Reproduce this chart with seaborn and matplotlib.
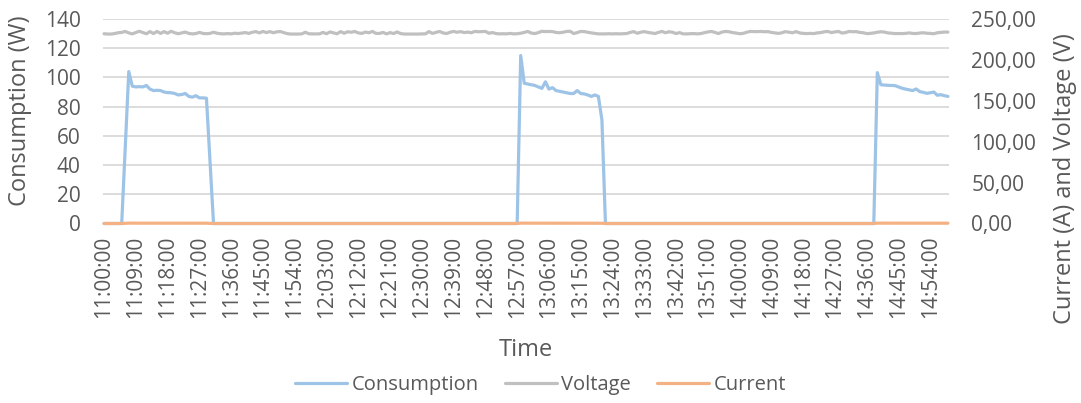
import numpy as np
import pandas as pd
import matplotlib
matplotlib.use("Agg")
import matplotlib.pyplot as plt
import seaborn as sns
from matplotlib.ticker import FuncFormatter, MultipleLocator
from matplotlib.lines import Line2D

# one reading per minute, 11:00 to 14:59
times = pd.date_range("2020-01-01 11:00", periods=240, freq="min")

# consumption (W) while the device is on, start minute index of each run
cons_run1_start = 5
cons_run1 = [0, 52, 104, 94, 93.5, 93.7, 93.5, 94.5, 92, 91, 91.2, 91, 90, 89.6,
             89.5, 89, 88, 88.3, 89, 87, 86.5, 87.5, 86, 86, 85.8, 43, 0]
cons_run2_start = 117
cons_run2 = [0, 115, 96, 95.5, 95, 94.5, 93.5, 92.5, 97, 92, 93, 91, 90.5, 90,
             89.5, 89, 89, 91, 89, 88.7, 88, 87, 88, 87, 71, 0]
cons_run3_start = 218
cons_run3 = [0, 103.3, 95, 94.8, 94.6, 94.5, 94.4, 93.5, 92.6, 92, 91.5, 91,
             92.1, 90.3, 89.8, 89.1, 89.5, 90, 87.8, 88.2, 87.5, 87]

# current (A) for the same runs
curr_run1 = [0, 0.23, 0.45, 0.41, 0.40, 0.40, 0.40, 0.41, 0.40, 0.39, 0.39, 0.39,
             0.39, 0.39, 0.39, 0.38, 0.38, 0.38, 0.38, 0.38, 0.37, 0.38, 0.37,
             0.37, 0.37, 0.19, 0]
curr_run2 = [0, 0.49, 0.41, 0.41, 0.41, 0.41, 0.40, 0.40, 0.42, 0.40, 0.40, 0.39,
             0.39, 0.39, 0.39, 0.38, 0.38, 0.39, 0.38, 0.38, 0.38, 0.37, 0.38,
             0.37, 0.31, 0]
curr_run3 = [0, 0.44, 0.41, 0.41, 0.41, 0.41, 0.41, 0.40, 0.40, 0.40, 0.39, 0.39,
             0.40, 0.39, 0.39, 0.38, 0.39, 0.39, 0.38, 0.38, 0.38, 0.37]

# voltage (V), every minute
voltage = [
    232.0, 231.6, 231.6, 232.2, 233.2, 233.6, 234.8, 233.0, 231.8, 233.5,
    235.0, 233.4, 232.0, 234.6, 232.2, 234.8, 232.4, 234.6, 232.6, 235.0,
    233.2, 232.0, 233.0, 234.0, 232.4, 231.8, 232.2, 233.6, 232.4, 232.0,
    232.4, 233.8, 232.6, 232.0, 231.8, 232.2, 231.8, 232.6, 232.2, 232.8,
    233.4, 232.4, 233.8, 234.6, 233.0, 234.8, 233.4, 234.6, 233.2, 234.4,
    234.6, 233.2, 232.0, 231.6, 231.6, 231.6, 231.8, 233.8, 232.0, 231.8,
    231.8, 231.8, 233.6, 232.0, 234.2, 233.0, 232.0, 234.6, 232.6, 234.4,
    233.8, 234.8, 233.0, 232.4, 234.0, 233.2, 234.8, 232.4, 232.4, 233.6,
    231.8, 233.4, 232.2, 234.2, 232.2, 231.6, 231.6, 231.6, 231.6, 231.6,
    231.8, 231.8, 234.6, 232.4, 233.6, 234.8, 233.0, 232.2, 233.8, 234.8,
    233.8, 234.6, 233.4, 234.0, 233.2, 234.8, 234.4, 234.6, 234.8, 232.6,
    233.4, 232.2, 231.8, 232.0, 231.8, 232.4, 231.8, 232.0, 232.6, 233.6,
    234.8, 232.8, 232.2, 233.4, 235.0, 234.6, 234.8, 234.6, 233.6, 233.2,
    233.8, 234.8, 235.0, 232.2, 233.4, 234.8, 234.6, 233.8, 233.0, 232.4,
    231.8, 231.8, 231.8, 232.0, 231.8, 232.0, 231.8, 232.0, 232.2, 233.6,
    234.6, 232.6, 233.8, 234.6, 233.6, 233.0, 232.2, 233.6, 234.8, 233.2,
    234.4, 233.8, 232.2, 233.4, 231.8, 231.8, 232.0, 232.2, 231.8, 232.2,
    233.2, 234.2, 234.8, 233.6, 232.2, 234.0, 234.8, 234.4, 233.4, 232.8,
    232.0, 232.4, 233.8, 234.8, 234.6, 234.6, 234.8, 234.4, 234.6, 233.6,
    233.0, 232.4, 233.2, 234.6, 233.8, 233.2, 234.6, 233.0, 232.4, 232.2,
    232.4, 232.2, 233.0, 233.4, 234.4, 234.8, 233.4, 234.2, 234.8, 232.8,
    233.4, 234.8, 234.4, 234.6, 233.6, 233.2, 232.2, 232.4, 233.0, 233.8,
    234.4, 234.0, 233.0, 232.6, 232.2, 232.2, 232.2, 232.4, 233.0, 232.4,
    232.2, 232.8, 233.2, 232.6, 232.4, 232.0, 233.2, 233.6, 234.0, 234.0,
]

tick_every = 9  # minutes between x labels

consumption = np.zeros(len(times))
current = np.zeros(len(times))
for start, c, a in [(cons_run1_start, cons_run1, curr_run1),
                    (cons_run2_start, cons_run2, curr_run2),
                    (cons_run3_start, cons_run3, curr_run3)]:
    consumption[start:start + len(c)] = c
    current[start:start + len(a)] = a

df = pd.DataFrame({"minute": np.arange(len(times)),
                   "Consumption": consumption,
                   "Voltage": voltage,
                   "Current": current})

sns.set_theme(style="white")
plt.rcParams['font.family'] = ['Open Sans', 'DejaVu Sans']
txt = '#595959'
grid = '#d9d9d9'
c_cons = '#9dc3e6'
c_volt = '#c0c0c0'
c_curr = '#f4b183'

fig = plt.figure(figsize=(10.81, 4.03), dpi=100)
ax = fig.add_axes([103 / 1081, 1 - 223.5 / 403, 846 / 1081, 204.5 / 403])
ax2 = ax.twinx()
ax2.patch.set_visible(False)

sns.lineplot(data=df, x="minute", y="Consumption", ax=ax, color=c_cons, lw=2.3)
sns.lineplot(data=df, x="minute", y="Voltage", ax=ax2, color=c_volt, lw=2.3)
sns.lineplot(data=df, x="minute", y="Current", ax=ax2, color=c_curr, lw=2.3)
# Excel does not clip lines sitting on the axis
for ln in ax.lines + ax2.lines:
    ln.set_clip_on(False)

ax.set_xlim(-0.3, 239.3)
ax.set_ylim(0, 140)
ax2.set_ylim(0, 250)
ax.yaxis.set_major_locator(MultipleLocator(20))
ax2.yaxis.set_major_locator(MultipleLocator(50))
ax2.yaxis.set_major_formatter(FuncFormatter(lambda v, p: f"{v:.2f}".replace(".", ",")))

ticks = list(range(0, len(times), tick_every))
ax.set_xticks(ticks)
ax.set_xticklabels([times[i].strftime("%H:%M:%S") for i in ticks], rotation=90)

ax2.grid(False)
ax.grid(False)
ax.yaxis.grid(True, color=grid, lw=1.3)
ax.set_axisbelow(True)
for a in (ax, ax2):
    for s in a.spines.values():
        s.set_visible(False)
    a.tick_params(length=0, labelsize=15, labelcolor=txt)
ax.tick_params(axis='y', pad=16)
ax.tick_params(axis='x', pad=9)
ax2.tick_params(axis='y', pad=16)

ax.set_xlabel("Time", fontsize=17, color=txt)
ax.xaxis.set_label_coords(0.5, -0.56)
ax.set_ylabel("Consumption (W)", fontsize=17, color=txt)
ax.yaxis.set_label_coords(-0.084, 0.55)
ax2.set_ylabel("Current (A) and Voltage (V)", fontsize=17, color=txt)
ax2.yaxis.set_label_coords(1.123, 0.22)

handles = [Line2D([], [], color=c, lw=2.3) for c in (c_cons, c_volt, c_curr)]
fig.legend(handles, ["Consumption", "Voltage", "Current"], loc='center',
           bbox_to_anchor=(0.5, 1 - 385 / 403), ncol=3, frameon=False,
           fontsize=14.5, labelcolor=txt, handlelength=2.6, handletextpad=0.2,
           columnspacing=1.3)

fig.savefig("out.png", dpi=100)
